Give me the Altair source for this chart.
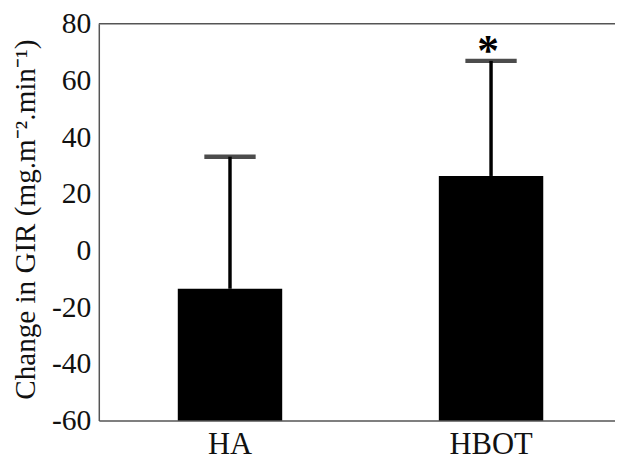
import altair as alt
import pandas as pd

groups = ["HA", "HBOT"]
means = [-13.5, 26.3]
errors = [46.6, 40.6]
sig = ["", "*"]
y_min, y_max = -60, 80
y_ticks = [-60, -40, -20, 0, 20, 40, 60, 80]

df = pd.DataFrame({
    "group": groups,
    "mean": means,
    "upper": [m + e for m, e in zip(means, errors)],
    "base": [y_min] * len(groups),
    "sig": sig,
})

FONT = "Liberation Serif"
xscale = alt.Scale(domain=groups, paddingInner=0.6, paddingOuter=0.2887, align=0.524)
yscale = alt.Scale(domain=[y_min, y_max], nice=False, zero=False)

xaxis = alt.Axis(title=None, labelAngle=0, ticks=False, tickSize=0, labelPadding=33,
                 labelBaseline="alphabetic", labelFont=FONT, labelFontSize=31,
                 labelColor="#111", domainColor="#555", domainWidth=1.5, grid=False)
yaxis = alt.Axis(values=y_ticks, title="Change in GIR (mg.m⁻².min⁻¹)", ticks=False, tickSize=0,
                 labelPadding=8, labelFont=FONT, labelFontSize=30, labelColor="#111",
                 labelExpr="'' + datum.value",
                 domainColor="#555", domainWidth=1.5, grid=False,
                 titleFont=FONT, titleFontSize=29.5, titleFontWeight="normal", titleColor="#111",
                 titleAngle=270, titleX=-65, titleY=198, titleAlign="center",
                 titleBaseline="alphabetic")


def xenc():
    return alt.X("group:N", scale=xscale, sort=groups, axis=xaxis)


def yenc(field):
    return alt.Y(field, scale=yscale, axis=yaxis)


base = alt.Chart(df)
bars = base.mark_bar(color="black").encode(x=xenc(), y=yenc("mean:Q"), y2="base:Q")
err = base.mark_rule(color="black", strokeWidth=3.5).encode(x=xenc(), y=yenc("mean:Q"), y2="upper:Q")
cap = base.mark_tick(color="black", size=52, thickness=4.5).encode(x=xenc(), y=yenc("upper:Q"))
star = base.mark_text(font=FONT, fontSize=44, fontWeight="bold", color="black",
                      baseline="alphabetic", dy=4, dx=-3).encode(x=xenc(), y=yenc("upper:Q"), text="sig:N")
top = alt.Chart(pd.DataFrame({"v": [y_max]})).mark_rule(color="#555", strokeWidth=1.5).encode(
    y=yenc("v:Q"))

chart = alt.layer(bars, err, cap, star, top).properties(
    width=523, height=402,
    autosize=alt.AutoSizeParams(type="none"),
    padding={"left": 92, "top": 13, "right": 0, "bottom": 38},
    background="white",
).configure_view(stroke=None)

chart.save("out.html", embed_options={"renderer": "svg", "actions": False})
